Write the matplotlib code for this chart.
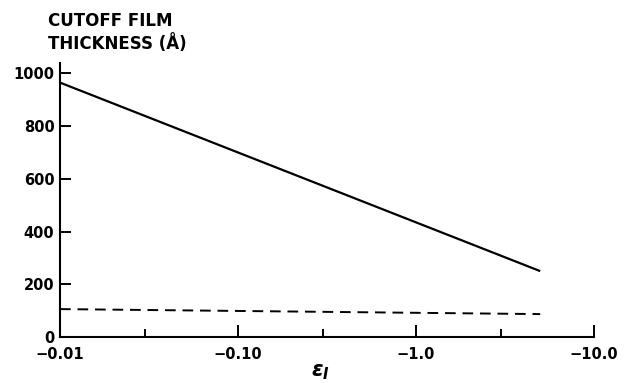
import matplotlib
matplotlib.use("Agg")
import matplotlib.pyplot as plt
from matplotlib.ticker import FixedLocator, NullFormatter

# data (x is magnitude of -epsilon_I, log scale)
solid_x = [0.01, 5.0]
solid_y = [965, 250]
dash_x = [0.01, 5.0]
dash_y = [106, 87]
xticks = [0.01, 0.1, 1.0, 10.0]
xticklabels = ["\u22120.01", "\u22120.10", "\u22121.0", "\u221210.0"]
xminor = [0.03, 0.3, 3.0]
yticks = [0, 200, 400, 600, 800, 1000]

plt.rcParams['font.family'] = ['DejaVu Sans']
plt.rcParams['font.weight'] = 'bold'
fig = plt.figure(figsize=(6.25, 3.83), dpi=100)
ax = fig.add_axes([0.096, 0.12, 0.854, 0.716])

ax.plot(solid_x, solid_y, color='black', lw=1.6, solid_capstyle='butt')
ax.plot(dash_x, dash_y, color='black', lw=1.4, dashes=(5.5, 3.5))

ax.set_xscale('log')
ax.set_xlim(0.01, 10.0)
ax.set_ylim(0, 1040)

ax.xaxis.set_major_locator(FixedLocator(xticks))
ax.set_xticklabels(xticklabels)
ax.xaxis.set_minor_locator(FixedLocator(xminor))
ax.xaxis.set_minor_formatter(NullFormatter())
ax.set_yticks(yticks)
ax.set_yticklabels([str(v) for v in yticks])

for s in ['top', 'right']:
    ax.spines[s].set_visible(False)
for s in ['left', 'bottom']:
    ax.spines[s].set_linewidth(1.5)

ax.tick_params(axis='x', which='major', direction='in', length=9, width=1.4,
               labelsize=10.5, pad=7)
ax.tick_params(axis='x', which='minor', direction='in', length=5.5, width=1.4)
ax.tick_params(axis='y', which='major', direction='in', length=8, width=1.4,
               labelsize=10.5, pad=4)

fig.text(0.077, 0.946, "CUTOFF FILM", fontsize=12, ha='left', va='center')
fig.text(0.077, 0.886, "THICKNESS (Å)", fontsize=12, ha='left', va='center')
fig.text(0.512, 0.03, r"$\epsilon_{I}$", fontsize=15, ha='center', va='center')

fig.savefig("out.png", dpi=100)
